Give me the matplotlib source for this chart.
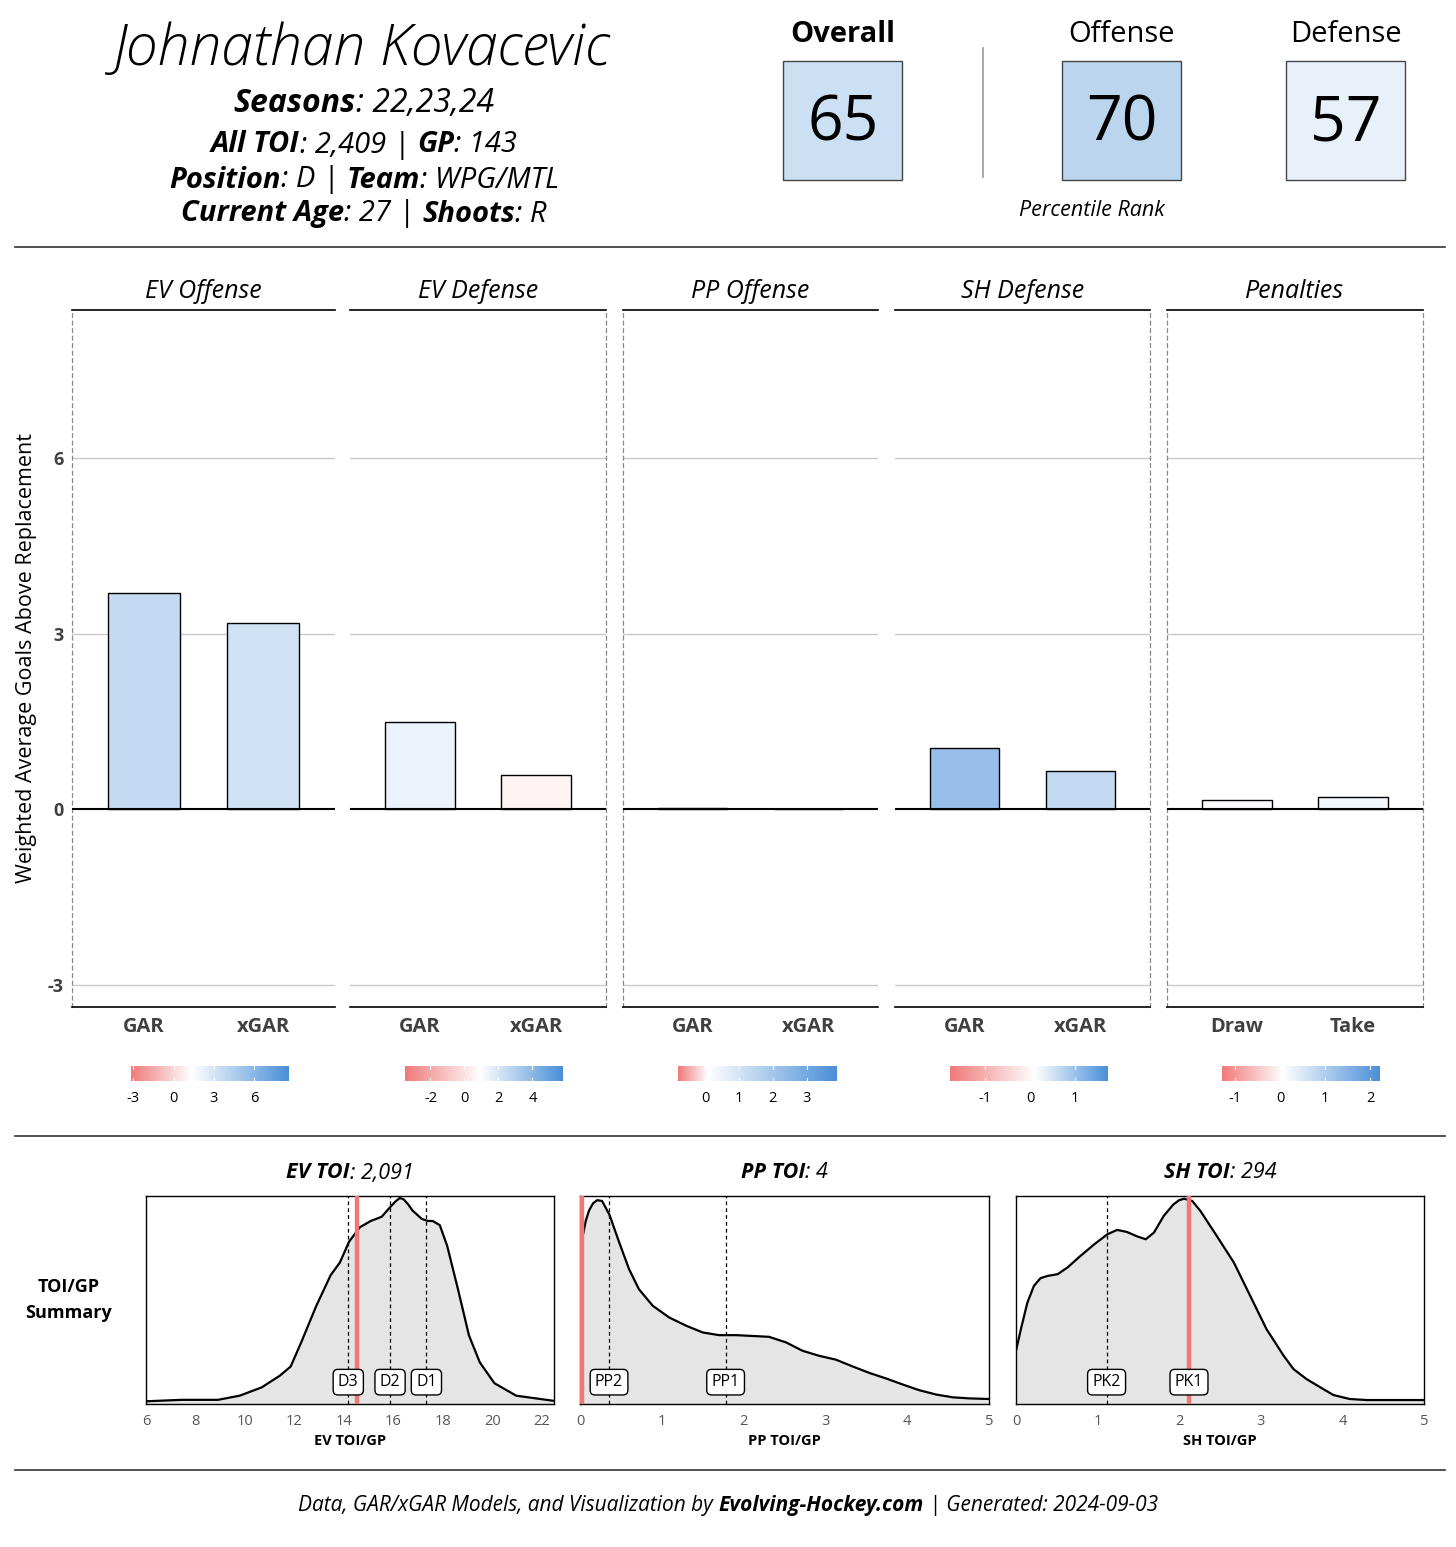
import numpy as np
import matplotlib
matplotlib.use("Agg")
import matplotlib.pyplot as plt
from matplotlib.colors import LinearSegmentedColormap
from matplotlib.patches import Rectangle

plt.rcParams['font.family'] = ['Open Sans', 'DejaVu Sans']

W, H = 1456, 1547

# header info
player = "Johnathan Kovacevic"
info_lines = [
    [("Seasons", "bold"), (": 22,23,24", "normal")],
    [("All TOI", "bold"), (": 2,409 | ", "normal"), ("GP", "bold"), (": 143", "normal")],
    [("Position", "bold"), (": D | ", "normal"), ("Team", "bold"), (": WPG/MTL", "normal")],
    [("Current Age", "bold"), (": 27 | ", "normal"), ("Shoots", "bold"), (": R", "normal")],
]
rank_names = ["Overall", "Offense", "Defense"]
rank_vals = [65, 70, 57]
rank_colors = ["#cce0f4", "#bad5ed", "#e8f0f9"]

# GAR panels
panels = ["EV Offense", "EV Defense", "PP Offense", "SH Defense", "Penalties"]
cats = [["GAR", "xGAR"], ["GAR", "xGAR"], ["GAR", "xGAR"], ["GAR", "xGAR"], ["Draw", "Take"]]
vals = [[3.69, 3.18], [1.49, 0.58], [0.02, 0.0], [1.04, 0.65], [0.15, 0.21]]
cb_lo = [-3.2, -3.5, -0.83, -1.8, -1.29]
cb_hi = [8.55, 5.8, 3.86, 1.73, 2.22]
cb_mid = [1.3, 0.94, 0.05, 0.1, 0.07]
cb_ticks = [[-3, 0, 3, 6], [-2, 0, 2, 4], [0, 1, 2, 3], [-1, 0, 1], [-1, 0, 1, 2]]

# TOI/GP densities (relative height)
ev_x = [6.0, 7.44, 8.91, 9.79, 10.68, 11.41, 11.85, 12.29, 12.88, 13.47, 13.84, 14.21, 14.65,
        15.09, 15.53, 15.9, 16.1, 16.26, 16.41, 16.6, 16.78, 17.15, 17.4, 17.59, 17.88, 18.18,
        18.62, 19.06, 19.5, 20.09, 20.97, 22.5]
ev_y = [0.013, 0.02, 0.02, 0.04, 0.08, 0.136, 0.18, 0.30, 0.47, 0.62, 0.68, 0.78, 0.85,
        0.88, 0.90, 0.95, 0.975, 0.99, 0.985, 0.96, 0.93, 0.89, 0.88, 0.88, 0.86, 0.76,
        0.55, 0.33, 0.20, 0.10, 0.04, 0.015]
pp_x = [0.03, 0.07, 0.11, 0.16, 0.21, 0.27, 0.36, 0.48, 0.6, 0.72, 0.89, 1.09, 1.3, 1.5, 1.7,
        1.91, 2.31, 2.52, 2.72, 2.92, 3.13, 3.33, 3.54, 3.74, 3.95, 4.15, 4.36, 4.56, 4.76, 5.0]
pp_y = [0.80, 0.88, 0.93, 0.965, 0.98, 0.976, 0.91, 0.776, 0.648, 0.552, 0.472, 0.416, 0.376,
        0.344, 0.331, 0.331, 0.323, 0.296, 0.256, 0.232, 0.213, 0.181, 0.149, 0.123, 0.093,
        0.066, 0.045, 0.032, 0.027, 0.024]
sh_x = [0.0, 0.06, 0.14, 0.22, 0.3, 0.39, 0.51, 0.63, 0.79, 0.96, 1.12, 1.24, 1.36, 1.49, 1.59,
        1.69, 1.81, 1.93, 2.0, 2.06, 2.16, 2.26, 2.46, 2.67, 2.87, 3.07, 3.28, 3.4, 3.56, 3.73,
        3.89, 4.09, 4.3, 5.0]
sh_y = [0.256, 0.36, 0.488, 0.568, 0.605, 0.616, 0.624, 0.656, 0.712, 0.768, 0.816, 0.837,
        0.827, 0.805, 0.792, 0.824, 0.904, 0.96, 0.98, 0.987, 0.976, 0.928, 0.808, 0.68, 0.52,
        0.36, 0.232, 0.168, 0.12, 0.08, 0.043, 0.024, 0.019, 0.019]
toi_titles = [("EV TOI", ": 2,091"), ("PP TOI", ": 4"), ("SH TOI", ": 294")]
toi_xlabels = ["EV TOI/GP", "PP TOI/GP", "SH TOI/GP"]
player_toi = [14.54, 0.03, 2.12]
role_names = [["D3", "D2", "D1"], ["PP2", "PP1"], ["PK2", "PK1"]]
role_vals = [[14.18, 15.87, 17.34], [0.355, 1.78], [1.11, 2.12]]

LOW, HIGH = "#f07a7a", "#4a8fd8"
RED = "#ee7878"


def rect(x0, y0, x1, y1):
    return [x0 / W, 1 - y1 / H, (x1 - x0) / W, (y1 - y0) / H]


fig = plt.figure(figsize=(W / 100, H / 100), dpi=100)
bg = fig.add_axes([0, 0, 1, 1])
bg.set_xlim(0, W)
bg.set_ylim(H, 0)
bg.axis("off")
renderer = fig.canvas.get_renderer()


def rich(x, y, parts, size, style="italic", va="center"):
    ts = []
    for s, w in parts:
        ts.append(bg.text(0, y, s, fontsize=size, fontweight=w, fontstyle=style, va=va, ha="left"))
    widths = [t.get_window_extent(renderer).width for t in ts]
    start = x - sum(widths) / 2
    for t, wd in zip(ts, widths):
        t.set_x(start)
        start += wd


# ---- header ----
bg.text(362, 50, player, fontsize=41, fontstyle="italic", fontweight="light", ha="center", va="center")
rich(364, 104, info_lines[0], 23)
for yy, line in zip([145, 180, 214], info_lines[1:]):
    rich(364, yy, line, 21)

centers = [843, 1122, 1346]
for i, (nm, v, c) in enumerate(zip(rank_names, rank_vals, rank_colors)):
    bg.text(centers[i], 35, nm, fontsize=21, fontweight="bold" if i == 0 else "normal",
            ha="center", va="center")
    bg.add_patch(Rectangle((centers[i] - 60, 61), 119, 119, facecolor=c, edgecolor="#444444", lw=1))
    bg.text(centers[i], 124, str(v), fontsize=45, ha="center", va="center")
bg.plot([983, 983], [48, 177], color="#999999", lw=1.2)
bg.text(1092, 210, "Percentile Rank", fontsize=15.5, fontstyle="italic", ha="center", va="center")

for yy in [247, 1136, 1470]:
    bg.plot([15, 1445], [yy, yy], color="#333333", lw=1.2)

# ---- GAR panels ----
px = [(72, 335), (350, 606), (623, 878), (895, 1150), (1167, 1423)]
dashed = {0: ["left"], 1: ["right"], 2: ["left"], 3: ["right"], 4: ["left", "right"]}
for i, (x0, x1) in enumerate(px):
    ax = fig.add_axes(rect(x0, 310, x1, 1007))
    cmap = LinearSegmentedColormap.from_list(
        "d%d" % i, [(0, LOW), ((cb_mid[i] - cb_lo[i]) / (cb_hi[i] - cb_lo[i]), "white"), (1, HIGH)])
    norm = plt.Normalize(cb_lo[i], cb_hi[i])
    cols = [cmap(norm(v)) for v in vals[i]]
    ax.set_xlim(0.4, 2.6)
    ax.set_ylim(-3.38, 8.53)
    for g in [-3, 3, 6]:
        ax.axhline(g, color="#c8c8c8", lw=1, zorder=0)
    ax.bar([1, 2], vals[i], width=0.6, color=cols, edgecolor="black", lw=1, zorder=2)
    ax.axhline(0, color="black", lw=1.5, zorder=3)
    for s in ax.spines.values():
        s.set_visible(False)
    ax.spines["top"].set_visible(True)
    ax.spines["bottom"].set_visible(True)
    ax.spines["top"].set_linewidth(1.2)
    ax.spines["bottom"].set_linewidth(1.2)
    for side in dashed[i]:
        ax.spines[side].set_visible(True)
        ax.spines[side].set_color("#888888")
        ax.spines[side].set_linestyle((0, (3, 3)))
        ax.spines[side].set_linewidth(0.9)
    ax.set_xticks([1, 2])
    ax.set_xticklabels(cats[i], fontsize=14.5, fontweight="bold", color="#404040")
    ax.tick_params(axis="x", length=0, pad=7)
    if i == 0:
        ax.set_yticks([-3, 0, 3, 6])
        ax.set_yticklabels(["-3", "0", "3", "6"], fontsize=13, fontweight="bold", color="#404040")
        ax.tick_params(axis="y", length=0, pad=6)
        ax.set_ylabel("Weighted Average Goals Above Replacement", fontsize=15.5, labelpad=8)
    else:
        ax.set_yticks([])
    ax.set_title(panels[i], fontsize=18, fontstyle="italic", pad=9)

    # colour bar
    cx = (x0 + x1) / 2 + 6
    cax = fig.add_axes(rect(cx - 79, 1066, cx + 79, 1081))
    grad = np.linspace(cb_lo[i], cb_hi[i], 256).reshape(1, -1)
    cax.imshow(grad, cmap=cmap, norm=norm, aspect="auto",
               extent=[cb_lo[i], cb_hi[i], 0, 1])
    for t in cb_ticks[i]:
        cax.plot([t, t], [0, 0.2], color="white", lw=0.8)
        cax.plot([t, t], [0.8, 1], color="white", lw=0.8)
    cax.set_xlim(cb_lo[i], cb_hi[i])
    cax.set_ylim(0, 1)
    cax.set_xticks(cb_ticks[i])
    cax.set_xticklabels([str(t) for t in cb_ticks[i]], fontsize=10.5)
    cax.tick_params(axis="x", length=0, pad=7)
    cax.set_yticks([])
    for s in cax.spines.values():
        s.set_visible(False)

# ---- TOI/GP densities ----
bg.text(69, 1300, "TOI/GP\nSummary", fontsize=13, fontweight="bold", ha="center", va="center",
        linespacing=1.6)
dx = [(146, 554), (580, 989), (1016, 1424)]
xs = [ev_x, pp_x, sh_x]
ys = [ev_y, pp_y, sh_y]
lims = [(6, 22.5), (0, 5), (0, 5)]
ticks = [list(range(6, 23, 2)), list(range(0, 6)), list(range(0, 6))]
for k, (x0, x1) in enumerate(dx):
    ax = fig.add_axes(rect(x0, 1196, x1, 1404))
    ax.fill_between(xs[k], 0, ys[k], color="#e5e5e5", zorder=1)
    ax.plot(xs[k], ys[k], color="black", lw=1.6, zorder=3, solid_joinstyle="round")
    for rv in role_vals[k]:
        ax.axvline(rv, color="black", lw=0.9, ls=(0, (3, 2.5)), zorder=2)
    ax.axvline(player_toi[k], color=RED, lw=3.2, zorder=4)
    for nm, rv in zip(role_names[k], role_vals[k]):
        ax.text(rv, 0.105, nm, fontsize=11.5, ha="center", va="center", zorder=5,
                bbox=dict(boxstyle="round,pad=0.3,rounding_size=0.3", fc="white", ec="black", lw=1))
    ax.set_xlim(*lims[k])
    ax.set_ylim(0, 1.0)
    ax.set_yticks([])
    ax.set_xticks(ticks[k])
    ax.set_xticklabels([str(t) for t in ticks[k]], fontsize=10.5, color="#555555")
    ax.tick_params(axis="x", length=0, pad=7)
    ax.set_xlabel(toi_xlabels[k], fontsize=10.5, fontweight="bold", labelpad=4)
    for s in ax.spines.values():
        s.set_linewidth(1)
    cx = (x0 + x1) / 2
    rich(cx, 1173, [(toi_titles[k][0], "bold"), (toi_titles[k][1], "normal")], 15.5)

# ---- footer ----
rich(728, 1505, [("Data, GAR/xGAR Models, and Visualization by ", "normal"),
                 ("Evolving-Hockey.com", "bold"),
                 (" | Generated: 2024-09-03", "normal")], 15)

fig.savefig("out.png", dpi=100)
